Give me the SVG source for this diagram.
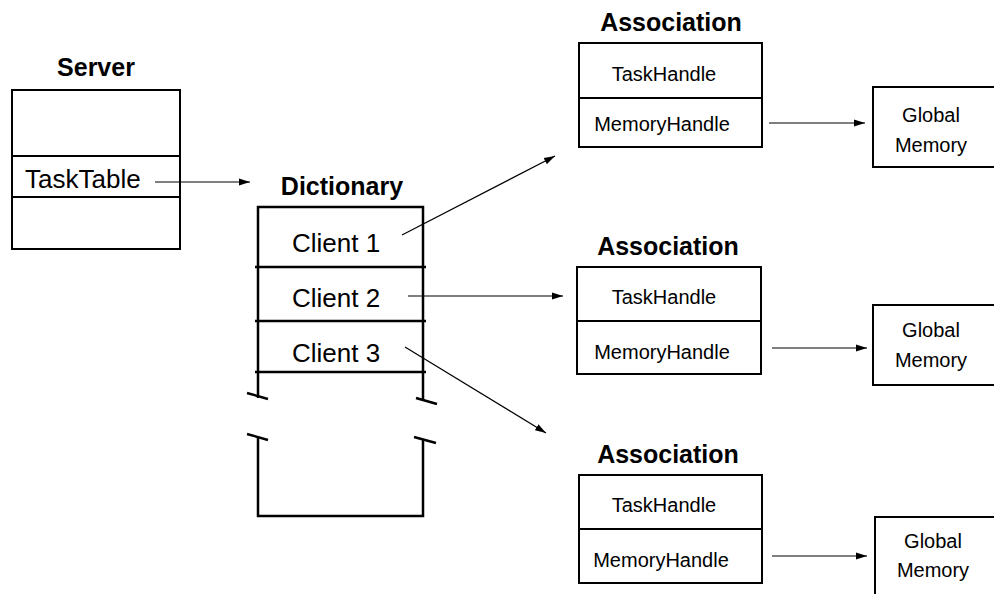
<svg xmlns="http://www.w3.org/2000/svg" width="994" height="594" viewBox="0 0 994 594">
<style>
.box{fill:none;stroke:#000;stroke-width:2}
.dict{fill:none;stroke:#000;stroke-width:2.5}
.title{font-family:"Liberation Sans",Arial,sans-serif;font-weight:bold;font-size:25px;fill:#000;text-anchor:middle}
.big{font-family:"Liberation Sans",Arial,sans-serif;font-size:26px;fill:#000}
.small{font-family:"Liberation Sans",Arial,sans-serif;font-size:20px;fill:#000;text-anchor:middle}
.conn{stroke:#000;stroke-width:1.2;fill:none;marker-end:url(#ah)}
</style>
<defs>
<marker id="ah" markerUnits="userSpaceOnUse" markerWidth="12" markerHeight="8" refX="11" refY="4" orient="auto">
<path d="M0,0.5 L11,4 L0,7.5 z" fill="#000"/>
</marker>
</defs>
<rect width="994" height="594" fill="#fff"/>

<g id="server">
<text class="title" x="96" y="76">Server</text>
<rect class="box" x="12" y="90" width="168" height="159"/>
<line class="box" x1="12" y1="156" x2="180" y2="156"/>
<line class="box" x1="12" y1="197" x2="180" y2="197"/>
<text class="big" x="25" y="188">TaskTable</text>
</g>

<g id="dictionary">
<text class="title" x="342" y="195">Dictionary</text>
<path class="dict" d="M258,398 V207 H423 V400"/>
<line class="dict" x1="255" y1="267" x2="426" y2="267"/>
<line class="dict" x1="255" y1="321" x2="426" y2="321"/>
<line class="dict" x1="255" y1="372" x2="426" y2="372"/>
<line class="dict" x1="247" y1="393" x2="268" y2="399"/>
<line class="dict" x1="416" y1="398" x2="437" y2="404"/>
<line class="dict" x1="247" y1="434" x2="268" y2="440"/>
<line class="dict" x1="414" y1="437" x2="436" y2="443"/>
<path class="dict" d="M258,437 V516 H423 V440"/>
<text class="big" x="292" y="252">Client 1</text>
<text class="big" x="292" y="307">Client 2</text>
<text class="big" x="292" y="362">Client 3</text>
</g>

<g id="association1">
<text class="title" x="671" y="31">Association</text>
<rect class="box" x="579" y="43" width="183" height="104"/>
<line class="box" x1="579" y1="98" x2="762" y2="98"/>
<text class="small" x="664" y="81">TaskHandle</text>
<text class="small" x="662" y="131">MemoryHandle</text>
</g>
<g id="memory1">
<rect class="box" x="873" y="87" width="140" height="80"/>
<text class="small" x="931" y="122">Global</text>
<text class="small" x="931" y="152">Memory</text>
</g>

<g id="association2">
<text class="title" x="668" y="255">Association</text>
<rect class="box" x="577" y="267" width="184" height="107"/>
<line class="box" x1="577" y1="321" x2="761" y2="321"/>
<text class="small" x="664" y="304">TaskHandle</text>
<text class="small" x="662" y="359">MemoryHandle</text>
</g>
<g id="memory2">
<rect class="box" x="873" y="305" width="140" height="80"/>
<text class="small" x="931" y="337">Global</text>
<text class="small" x="931" y="367">Memory</text>
</g>

<g id="association3">
<text class="title" x="668" y="463">Association</text>
<rect class="box" x="579" y="475" width="183" height="108"/>
<line class="box" x1="579" y1="529" x2="762" y2="529"/>
<text class="small" x="664" y="512">TaskHandle</text>
<text class="small" x="661" y="567">MemoryHandle</text>
</g>
<g id="memory3">
<rect class="box" x="875" y="517" width="140" height="100"/>
<text class="small" x="933" y="548">Global</text>
<text class="small" x="933" y="577">Memory</text>
</g>

<g id="connectors">
<line class="conn" x1="155" y1="182" x2="250" y2="182"/>
<line class="conn" x1="402" y1="235" x2="555" y2="156"/>
<line class="conn" x1="408" y1="296" x2="563" y2="296"/>
<line class="conn" x1="405" y1="347" x2="546" y2="433"/>
<line class="conn" x1="769" y1="123" x2="865" y2="123"/>
<line class="conn" x1="772" y1="348" x2="867" y2="348"/>
<line class="conn" x1="772" y1="556" x2="867" y2="556"/>
</g>
</svg>
